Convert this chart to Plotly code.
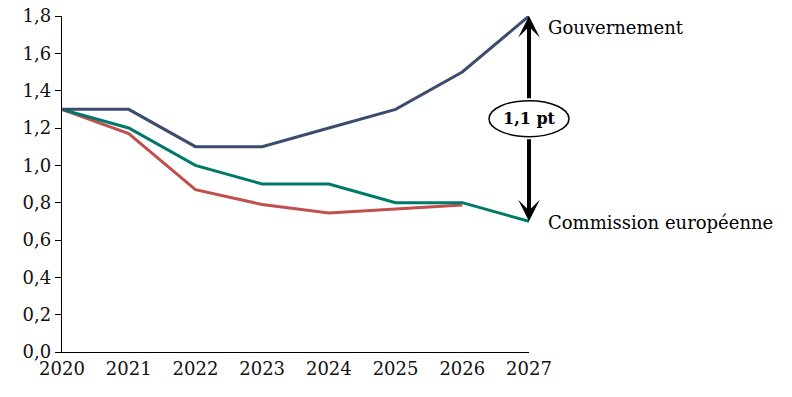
import plotly.graph_objects as go

years = [2020, 2021, 2022, 2023, 2024, 2025, 2026, 2027]
gouvernement = [1.3, 1.3, 1.1, 1.1, 1.2, 1.3, 1.5, 1.8]
commission = [1.3, 1.2, 1.0, 0.9, 0.9, 0.8, 0.8, 0.7]
red_years = [2020, 2021, 2022, 2023, 2024, 2025, 2026]
red_series = [1.3, 1.17, 0.87, 0.79, 0.745, 0.765, 0.787]
y_ticks = [0.0, 0.2, 0.4, 0.6, 0.8, 1.0, 1.2, 1.4, 1.6, 1.8]
y_tick_labels = [f"{v:.1f}".replace(".", ",") for v in y_ticks]
gap_label = "1,1 pt"
label_gov = "Gouvernement"
label_com = "Commission européenne"

NAVY = "#3B4C6D"
GREEN = "#00786A"
RED = "#C0504D"
FONT = "DejaVu Serif"

fig = go.Figure()
fig.add_trace(go.Scatter(x=red_years, y=red_series, mode="lines",
                         line=dict(color=RED, width=3), showlegend=False))
fig.add_trace(go.Scatter(x=years, y=commission, mode="lines",
                         line=dict(color=GREEN, width=3), showlegend=False))
fig.add_trace(go.Scatter(x=years, y=gouvernement, mode="lines",
                         line=dict(color=NAVY, width=3), showlegend=False))

top = gouvernement[-1]
bottom = commission[-1]
mid = (top + bottom) / 2
x_end = years[-1]

for tip in (top, bottom):
    fig.add_annotation(x=x_end, y=tip, ax=x_end, ay=mid, axref="x", ayref="y",
                       xref="x", yref="y", text="", showarrow=True,
                       arrowhead=3, arrowsize=0.9, arrowwidth=4, arrowcolor="black",
                       startstandoff=19, standoff=0)

# ellipse centred on the right edge of the plot (x = 2027), not clipped
fig.add_shape(type="circle", xref="paper", yref="y", xsizemode="pixel", ysizemode="pixel",
              xanchor=1, yanchor=mid, x0=-40, x1=40, y0=-18, y1=18,
              line=dict(color="black", width=1.5), fillcolor="white", layer="above")
fig.add_annotation(x=x_end, y=mid, xref="x", yref="y", text=f"<b>{gap_label}</b>",
                   showarrow=False, font=dict(family=FONT, size=16, color="black"))

fig.add_annotation(x=x_end, y=top, xref="x", yref="y", text=label_gov, showarrow=False,
                   xanchor="left", yanchor="middle", xshift=17, yshift=-11,
                   font=dict(family=FONT, size=18, color="black"))
fig.add_annotation(x=x_end, y=bottom, xref="x", yref="y", text=label_com, showarrow=False,
                   xanchor="left", yanchor="middle", xshift=17, yshift=-1,
                   font=dict(family=FONT, size=18, color="black"))

fig.update_xaxes(range=[2020, 2027], tickvals=years, ticktext=[str(y) for y in years],
                 showgrid=False, zeroline=False, showline=True, linecolor="black",
                 linewidth=1.3, ticks="", automargin=False,
                 tickfont=dict(family=FONT, size=18, color="#111"))
fig.update_yaxes(range=[0, 1.8], tickvals=y_ticks, ticktext=y_tick_labels,
                 showgrid=False, zeroline=False, showline=True, linecolor="black",
                 linewidth=1.3, ticks="outside", ticklen=6, tickcolor="black",
                 automargin=False, tickfont=dict(family=FONT, size=18, color="#111"))

fig.update_layout(width=792, height=397, margin=dict(l=62, r=263, t=16, b=45),
                  plot_bgcolor="white", paper_bgcolor="white")

fig.write_html("out.html")
